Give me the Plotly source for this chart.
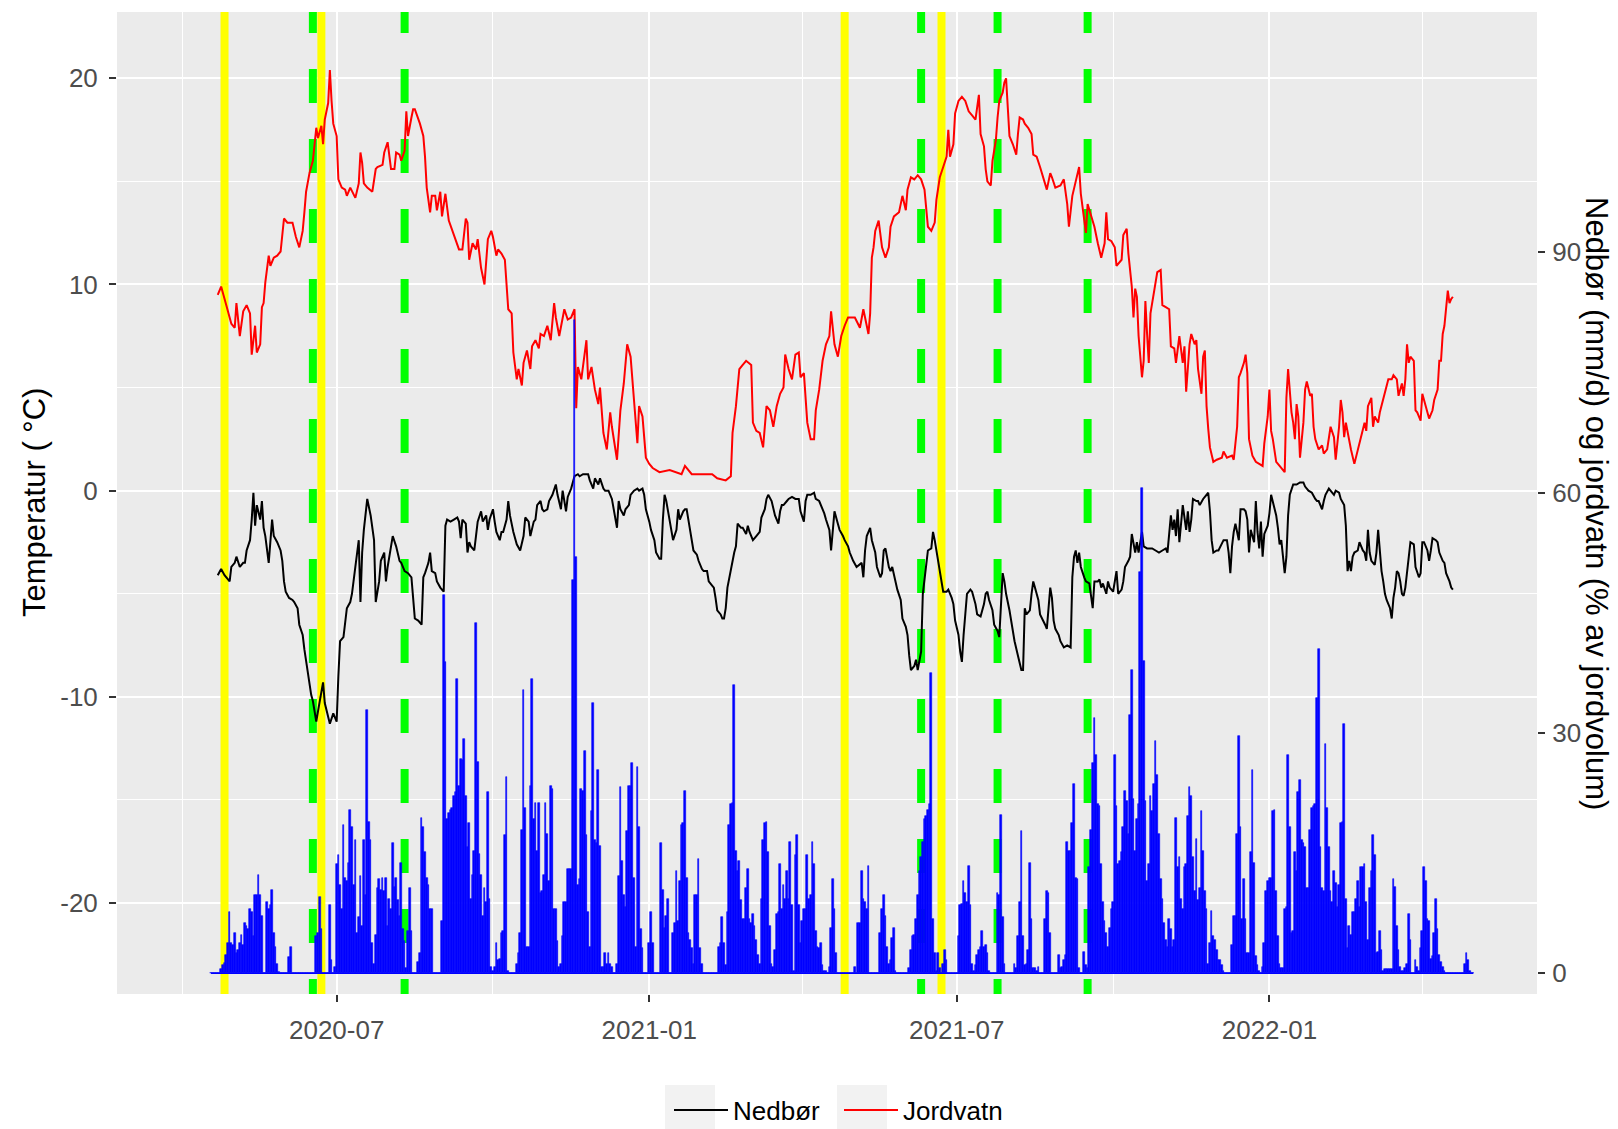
import pandas as pd
import plotly.graph_objects as go

# ---------------- data ----------------
ref_date = pd.Timestamp("2020-07-01")   # day 0 for the day offsets below

# black line ("Nedbør" in legend), left-axis units: (day offset, value)
nedbor_pts = [(-70,-4.1),(-68,-3.8),(-66,-4.1),(-63,-4.4),(-62,-3.7),(-60,-3.5),(-59,-3.2),(-57,-3.7),(-55,-3.5),(-54,-3.5),(-53,-2.9),(-51,-2.4),(-50,-1.4),(-49,-0.1),(-48,-1.7),(-47,-0.7),(-45,-1.4),(-44,-0.5),(-43,-1.8),(-42,-2.2),(-40,-3.5),(-39,-2.5),(-38,-1.4),(-37,-2.2),(-35,-2.5),(-33,-2.9),(-32,-3.4),(-31,-4.4),(-30,-4.9),(-28,-5.2),(-26,-5.3),(-25,-5.4),(-23,-5.7),(-22,-6.5),(-20,-7.0),(-19,-7.7),(-18,-8.3),(-16,-9.3),(-15,-9.9),(-14,-10.2),(-13,-10.8),(-12,-11.2),(-11,-10.7),(-9,-9.7),(-8,-9.3),(-7,-10.3),(-5,-11.0),(-4,-11.3),(-2,-10.8),(-1,-11.0),(0,-11.2),(1,-9.0),(2,-7.3),(4,-7.1),(5,-6.3),(6,-5.7),(8,-5.4),(9,-5.0),(11,-3.7),(12,-2.9),(13,-2.4),(14,-5.4),(15,-3.0),(16,-1.9),(17,-1.2),(18,-0.4),(20,-1.2),(21,-1.7),(22,-2.4),(23,-5.4),(25,-4.4),(26,-3.4),(28,-3.0),(29,-4.4),(30,-3.7),(32,-2.7),(33,-2.2),(35,-2.7),(37,-3.4),(38,-3.5),(40,-3.9),(42,-4.0),(44,-4.2),(45,-5.2),(46,-6.2),(48,-6.3),(50,-6.5),(51,-4.2),(52,-4.0),(54,-3.5),(55,-3.0),(56,-3.9),(58,-4.0),(59,-4.4),(61,-4.7),(63,-4.9),(64,-1.7),(65,-1.4),(67,-1.5),(69,-1.4),(71,-1.3),(72,-1.5),(73,-2.3),(74,-1.4),(76,-1.6),(77,-3.0),(78,-2.5),(79,-2.7),(81,-2.9),(82,-2.2),(83,-1.5),(85,-1.0),(86,-1.5),(88,-1.2),(89,-1.9),(90,-1.4),(92,-0.9),(93,-1.5),(94,-2.0),(96,-2.4),(97,-2.0),(98,-2.0),(100,-1.4),(101,-0.5),(102,-1.2),(104,-2.0),(106,-2.6),(108,-2.9),(110,-2.2),(111,-1.3),(113,-1.5),(114,-2.2),(116,-1.5),(117,-1.4),(118,-0.7),(120,-0.5),(121,-0.9),(122,-1.0),(124,-0.9),(125,-0.5),(127,-0.2),(129,0.3),(130,-0.2),(132,-0.9),(133,0.0),(135,-1.0),(136,-0.3),(138,0.1),(139,0.4),(140,0.7),(142,0.8),(143,0.7),(145,0.8),(148,0.8),(149,0.5),(151,0.1),(152,0.6),(154,0.3),(155,0.6),(157,0.1),(158,0.0),(160,0.0),(162,-0.4),(163,-0.9),(165,-1.8),(166,-0.5),(167,-0.9),(169,-1.2),(170,-0.9),(172,-0.7),(173,-0.2),(175,0.0),(177,0.1),(178,0.0),(180,0.1),(181,-0.2),(182,-0.9),(184,-1.5),(185,-1.9),(187,-2.4),(188,-3.0),(190,-3.3),(191,-3.3),(192,-1.4),(193,-0.2),(194,-0.5),(196,-1.4),(197,-2.0),(198,-2.4),(200,-1.9),(201,-0.9),(202,-1.4),(204,-1.0),(205,-0.9),(206,-0.9),(207,-1.4),(209,-2.4),(210,-2.9),(212,-3.1),(213,-3.4),(215,-3.8),(216,-3.9),(218,-3.9),(219,-4.4),(221,-4.6),(222,-4.7),(223,-5.2),(224,-5.8),(226,-6.0),(227,-6.2),(228,-6.2),(229,-5.7),(230,-4.7),(232,-3.8),(233,-3.4),(234,-3.0),(235,-2.7),(236,-1.6),(238,-1.8),(239,-1.8),(241,-2.1),(242,-1.7),(243,-2.0),(245,-2.4),(247,-2.2),(248,-2.1),(249,-2.0),(250,-1.3),(252,-0.9),(253,-0.4),(254,-0.2),(256,-0.5),(257,-0.9),(258,-1.2),(260,-1.6),(261,-1.0),(262,-0.7),(263,-0.7),(265,-0.5),(266,-0.4),(268,-0.3),(270,-0.4),(272,-0.4),(273,-1.0),(275,-1.5),(276,-0.5),(277,-0.2),(279,-0.2),(281,-0.1),(282,-0.4),(284,-0.5),(286,-0.9),(287,-1.1),(288,-1.4),(290,-1.9),(291,-2.9),(292,-1.7),(293,-1.0),(295,-1.6),(296,-1.9),(298,-2.2),(299,-2.4),(301,-2.7),(302,-3.0),(304,-3.4),(306,-3.7),(309,-3.5),(310,-4.2),(311,-2.9),(312,-2.2),(314,-1.8),(315,-2.4),(317,-3.0),(318,-3.7),(320,-4.2),(321,-4.0),(322,-2.9),(323,-2.8),(325,-3.7),(326,-3.9),(327,-3.7),(329,-4.4),(330,-4.8),(332,-5.3),(333,-6.2),(335,-6.6),(336,-7.0),(337,-8.0),(338,-8.7),(340,-8.5),(341,-8.2),(342,-8.7),(344,-7.8),(345,-5.0),(347,-3.7),(348,-2.9),(350,-2.8),(351,-2.0),(352,-2.4),(353,-2.9),(355,-3.9),(356,-4.5),(357,-4.9),(359,-4.9),(360,-4.8),(362,-5.2),(363,-5.5),(364,-6.3),(366,-7.0),(367,-7.8),(368,-8.3),(369,-7.0),(370,-6.0),(371,-5.0),(373,-4.8),(374,-4.9),(376,-5.5),(377,-6.0),(379,-6.1),(381,-5.5),(382,-5.0),(383,-4.9),(384,-5.3),(386,-5.8),(387,-6.5),(389,-6.8),(390,-7.1),(391,-5.5),(392,-4.0),(393,-4.4),(394,-5.0),(396,-5.8),(397,-6.3),(398,-7.0),(399,-7.3),(401,-8.0),(402,-8.4),(403,-8.7),(404,-8.7),(405,-5.7),(406,-6.0),(408,-5.8),(409,-5.0),(410,-4.4),(411,-4.7),(413,-5.3),(414,-6.0),(416,-6.3),(417,-6.5),(418,-6.7),(420,-4.7),(421,-5.2),(422,-6.3),(423,-6.7),(425,-7.0),(426,-7.3),(428,-7.6),(430,-7.5),(432,-7.6),(433,-4.2),(434,-3.2),(435,-2.9),(436,-3.5),(437,-3.0),(438,-3.7),(440,-4.2),(441,-4.4),(443,-4.5),(444,-5.0),(445,-5.7),(446,-4.4),(448,-4.4),(449,-4.3),(450,-4.7),(451,-4.5),(453,-5.0),(454,-4.4),(455,-4.7),(457,-4.9),(458,-4.4),(459,-3.9),(460,-5.0),(462,-4.8),(463,-4.4),(464,-3.7),(466,-3.4),(467,-3.2),(468,-2.1),(470,-3.0),(471,-2.5),(472,-3.0),(474,-2.0),(475,-2.7),(477,-2.8),(479,-2.8),(480,-2.8),(482,-2.9),(484,-3.0),(486,-2.9),(488,-2.8),(489,-3.0),(490,-2.2),(491,-1.2),(492,-1.9),(493,-1.4),(494,-2.2),(495,-0.9),(496,-2.5),(497,-1.5),(498,-0.7),(500,-1.9),(501,-1.0),(502,-2.0),(503,-1.4),(504,-0.4),(506,-0.5),(507,-0.5),(508,-0.7),(510,-0.4),(513,-0.1),(514,-1.0),(515,-2.4),(516,-3.0),(518,-2.9),(519,-2.9),(521,-2.6),(522,-2.4),(524,-2.4),(525,-3.0),(526,-4.0),(527,-2.7),(528,-2.0),(529,-1.6),(531,-2.4),(532,-0.9),(534,-0.9),(535,-1.0),(536,-1.4),(537,-3.0),(538,-1.9),(540,-2.5),(541,-0.5),(542,-2.0),(543,-2.8),(544,-1.5),(545,-3.2),(546,-2.1),(548,-1.7),(549,-1.1),(550,-0.2),(551,-0.5),(553,-1.2),(554,-1.8),(555,-2.6),(556,-2.4),(558,-4.0),(559,-3.2),(560,-1.2),(561,-0.2),(562,0.1),(563,0.3),(565,0.3),(567,0.4),(569,0.4),(570,0.2),(572,0.0),(574,-0.1),(576,-0.4),(577,-0.5),(578,-0.5),(580,-0.9),(581,-0.5),(582,-0.2),(584,0.1),(585,0.0),(587,-0.2),(588,0.0),(590,-0.1),(591,-0.4),(593,-0.7),(594,-1.7),(595,-3.9),(596,-3.4),(597,-3.9),(598,-3.2),(599,-3.0),(601,-2.9),(602,-2.5),(604,-2.9),(605,-3.0),(606,-3.4),(607,-1.9),(608,-3.0),(609,-3.4),(611,-3.6),(612,-3.0),(613,-1.9),(614,-2.9),(615,-3.9),(616,-4.4),(617,-5.0),(618,-5.3),(620,-5.7),(621,-6.2),(622,-5.2),(623,-4.7),(624,-3.9),(625,-4.0),(626,-4.4),(627,-5.0),(628,-5.1),(629,-4.7),(630,-4.0),(631,-3.2),(632,-2.5),(634,-2.6),(635,-3.7),(637,-4.2),(638,-4.0),(639,-2.5),(640,-2.5),(642,-2.9),(643,-3.4),(644,-2.9),(645,-2.3),(647,-2.4),(648,-2.5),(649,-3.0),(651,-3.4),(652,-3.5),(653,-4.0),(655,-4.4),(656,-4.7),(657,-4.8)]

# red line ("Jordvatn" in legend), left-axis units: (day offset, value)
jordvatn_pts = [(-70,9.5),(-68,9.9),(-65,9.0),(-62,8.1),(-60,7.9),(-59,9.1),(-57,7.5),(-55,8.7),(-53,9.0),(-51,8.6),(-50,6.6),(-48,8.0),(-47,6.7),(-45,7.1),(-44,8.9),(-43,9.1),(-42,10.1),(-40,11.4),(-39,10.9),(-37,11.3),(-35,11.4),(-33,11.6),(-31,13.2),(-29,13.0),(-26,13.0),(-24,12.3),(-22,11.8),(-20,12.6),(-19,13.5),(-18,14.5),(-16,15.4),(-14,16.0),(-13,16.8),(-12,17.6),(-11,17.1),(-9,17.7),(-8,16.8),(-7,18.0),(-5,18.8),(-4,20.4),(-3,18.9),(-2,17.8),(0,17.2),(1,15.1),(3,14.7),(5,14.6),(6,14.3),(8,14.7),(11,14.2),(13,14.9),(14,16.4),(15,15.9),(16,14.9),(18,14.7),(21,14.5),(23,15.6),(24,15.7),(27,15.8),(28,16.4),(30,16.9),(32,15.6),(34,15.6),(35,16.4),(37,16.3),(38,16.0),(40,16.5),(41,18.4),(42,17.2),(44,18.1),(45,18.5),(46,18.5),(49,17.8),(51,17.2),(52,16.2),(53,14.7),(55,13.5),(56,14.3),(58,14.3),(59,13.6),(61,14.5),(62,13.3),(64,14.4),(66,13.1),(68,12.6),(70,12.1),(72,11.7),(74,11.7),(76,13.2),(77,13.0),(78,11.2),(80,12.0),(82,11.7),(83,12.2),(85,10.8),(87,10.0),(89,12.2),(91,12.6),(92,12.3),(94,11.4),(95,11.7),(97,11.5),(99,11.2),(101,8.8),(103,8.6),(104,6.7),(106,5.4),(107,5.9),(109,5.1),(110,6.2),(112,6.8),(114,5.9),(115,7.0),(117,7.3),(119,6.9),(120,7.6),(122,7.5),(124,8.0),(126,7.3),(128,9.1),(129,8.4),(131,7.5),(134,8.8),(136,8.3),(138,8.4),(140,8.8),(141,4.0),(142,6.0),(144,5.4),(147,7.3),(148,5.4),(150,6.0),(152,4.9),(154,4.2),(155,5.0),(157,2.8),(159,2.0),(161,3.8),(162,3.1),(165,1.5),(167,3.9),(169,5.2),(171,7.1),(173,6.5),(175,4.2),(177,2.3),(178,4.1),(180,3.6),(182,1.6),(184,1.3),(186,1.1),(190,0.9),(196,1.0),(200,0.9),(203,0.8),(205,1.2),(209,0.8),(214,0.8),(221,0.8),(224,0.6),(229,0.5),(232,0.7),(233,2.8),(235,4.1),(237,5.9),(239,6.1),(241,6.3),(244,6.1),(245,3.3),(247,2.9),(249,2.8),(251,2.1),(253,4.1),(255,3.9),(257,3.1),(259,4.1),(261,4.7),(263,5.0),(264,6.6),(266,5.9),(268,5.4),(270,6.6),(272,6.7),(273,5.5),(275,5.7),(277,3.3),(279,2.5),(281,2.5),(282,3.9),(284,4.9),(286,6.3),(288,7.1),(290,7.5),(291,8.7),(293,7.1),(295,6.5),(297,7.5),(299,8.0),(301,8.4),(303,8.4),(305,8.4),(308,7.9),(310,8.8),(312,8.0),(313,7.6),(314,8.6),(315,11.3),(316,11.8),(317,12.6),(319,13.1),(321,11.8),(323,11.3),(325,11.8),(326,12.8),(328,13.3),(331,13.5),(333,14.3),(335,13.6),(336,14.6),(338,15.2),(340,15.1),(342,15.3),(344,15.1),(346,14.6),(348,12.8),(350,12.6),(352,13.0),(353,14.1),(355,15.2),(357,15.7),(359,16.2),(360,17.5),(361,16.2),(363,16.8),(364,18.3),(366,18.9),(368,19.1),(370,18.9),(372,18.4),(374,18.2),(376,18.0),(378,19.2),(379,17.3),(381,16.7),(382,15.6),(383,15.0),(385,14.8),(386,16.0),(388,17.0),(389,18.1),(390,18.9),(392,19.3),(393,19.8),(394,20.0),(396,17.2),(398,16.8),(400,16.3),(401,17.3),(402,18.1),(404,18.0),(405,17.8),(407,17.6),(409,17.3),(410,16.3),(412,16.2),(414,15.7),(416,15.1),(418,14.6),(420,15.4),(421,15.2),(423,14.7),(426,14.8),(428,15.1),(430,13.9),(431,12.8),(433,14.3),(435,15.0),(437,15.7),(438,14.4),(440,13.0),(441,12.5),(442,13.9),(444,13.3),(446,12.8),(448,12.0),(450,11.3),(452,12.0),(453,13.5),(454,12.2),(456,12.1),(458,11.8),(459,10.9),(462,11.2),(463,12.4),(465,12.7),(466,11.5),(468,9.9),(469,8.4),(470,9.8),(471,9.4),(472,7.5),(473,6.5),(474,5.5),(475,6.3),(476,9.2),(477,7.6),(478,6.2),(479,8.6),(480,9.1),(482,9.9),(483,10.6),(485,10.7),(486,9.0),(488,8.9),(490,8.8),(491,7.0),(493,6.9),(494,6.2),(496,7.5),(498,6.2),(499,7.0),(500,4.8),(502,7.1),(503,7.6),(505,7.1),(506,7.3),(507,5.9),(509,4.7),(510,6.5),(511,6.8),(512,4.1),(513,3.0),(514,2.1),(516,1.4),(518,1.5),(521,1.6),(522,1.9),(524,1.6),(527,1.7),(528,1.5),(530,3.1),(531,5.5),(532,5.7),(534,6.2),(535,6.6),(536,5.7),(537,2.5),(539,1.7),(541,1.4),(543,1.3),(545,1.2),(546,2.3),(548,3.6),(549,4.9),(550,2.9),(551,2.5),(553,1.4),(555,1.2),(558,0.9),(559,4.5),(560,5.9),(562,3.8),(563,3.3),(564,2.5),(565,4.2),(566,3.6),(567,1.6),(569,3.3),(570,4.9),(571,5.3),(573,4.6),(574,4.7),(575,3.1),(576,2.5),(578,2.0),(580,2.2),(581,1.8),(583,2.0),(585,3.1),(587,2.6),(588,1.5),(590,3.1),(591,4.4),(592,3.8),(593,2.6),(594,3.3),(596,2.3),(597,2.0),(599,1.3),(601,2.0),(603,2.6),(605,3.3),(606,2.9),(607,4.1),(609,4.5),(610,3.1),(611,3.6),(613,3.3),(614,3.8),(616,4.4),(617,4.7),(619,5.4),(621,5.4),(622,5.6),(624,5.4),(625,4.6),(627,5.2),(628,4.6),(629,5.4),(630,7.1),(631,6.2),(632,6.5),(634,6.3),(635,3.9),(636,3.8),(638,3.4),(639,4.7),(640,4.4),(642,3.8),(643,3.5),(645,3.9),(646,4.4),(648,4.9),(649,6.3),(650,6.3),(651,7.6),(652,8.0),(653,8.9),(654,9.7),(655,9.1),(656,9.3),(657,9.4)]

# daily precipitation bars (right-axis units, mm/d), one value per day from bar_start
bar_start = "2020-04-18"
precip_mm = [
    0, 0, 0,
    0, 0, 0, 0.5,
    1.0, 1.3, 2.3, 3.8, 7.6, 3.8, 3.5, 5.0,
    2.5, 2.9, 3.8, 4.8, 3.5, 6.3, 5.9, 5.5,
    8.0, 7.6, 4.6, 9.7, 9.7, 12.3, 9.7, 7.2,
    0, 0, 8.9, 8.0, 8.5, 10.4, 5.0, 3.3,
    1.2, 0.1, 0, 0, 0, 0, 0, 2.0,
    3.3, 0, 0, 0, 0, 0, 0, 0,
    0, 0, 0, 0, 0, 0, 0, 4.6,
    5.0, 9.5, 5.5, 0, 0, 0, 0, 8.5,
    1.6, 0, 0.8, 13.6, 14.7, 11.0, 8.0, 18.5,
    11.9, 11.5, 13.8, 20.4, 18.3, 11.0, 16.6, 5.0,
    7.0, 12.1, 5.9, 16.6, 9.7, 32.8, 18.9, 16.6,
    3.8, 1.2, 4.8, 10.6, 11.7, 10.4, 11.9, 10.2,
    11.9, 5.9, 9.3, 8.0, 16.2, 10.8, 11.9, 9.1,
    7.2, 13.8, 5.5, 4.0, 0.6, 5.3, 10.6, 5.3,
    0, 0, 0, 1.4, 2.5, 19.4, 18.3, 15.1,
    11.9, 11.0, 8.0, 8.0, 0, 0, 0, 0,
    0, 6.5, 47.2, 38.8, 19.2, 20.0, 20.4, 20.6,
    22.1, 22.6, 36.7, 23.4, 26.8, 26.6, 29.2, 22.1,
    15.7, 18.7, 9.3, 12.3, 15.3, 43.7, 26.4, 14.9,
    12.3, 7.2, 10.6, 8.9, 22.6, 9.3, 0.8, 0.3,
    0.8, 3.8, 1.6, 1.8, 5.0, 5.3, 17.2, 24.5,
    0.3, 0, 0, 0, 0, 1.2, 2.5, 5.0,
    17.9, 35.4, 20.6, 3.3, 3.3, 23.4, 36.7, 19.2,
    21.3, 15.3, 21.3, 10.0, 10.2, 12.3, 21.3, 17.4,
    11.5, 23.4, 23.0, 8.0, 8.0, 4.0, 0.8, 1.2,
    4.6, 8.9, 8.9, 13.0, 13.0, 13.0, 49.1, 81.5,
    51.9, 11.0, 11.7, 23.0, 22.8, 27.7, 17.2, 7.6,
    3.3, 20.2, 33.7, 16.6, 16.2, 25.4, 15.9, 0.8,
    0.8, 2.5, 1.2, 2.5, 1.2, 0.8, 0, 0,
    1.2, 12.1, 23.2, 14.0, 9.7, 8.3, 17.7, 23.4,
    23.4, 26.2, 11.9, 3.3, 25.8, 18.3, 5.5, 3.1,
    0, 0, 0, 3.8, 7.6, 3.8, 0, 0,
    0, 0, 16.2, 10.4, 5.7, 7.2, 9.3, 0,
    0, 5.0, 6.3, 12.7, 6.5, 11.5, 18.5, 18.7,
    22.8, 11.9, 5.0, 4.2, 3.1, 1.2, 9.7, 9.7,
    14.2, 3.1, 1.2, 0, 0, 0, 0, 0,
    0, 0, 0, 0, 3.3, 3.8, 7.0, 3.8,
    1.0, 7.6, 18.5, 21.1, 21.3, 36.0, 15.3, 12.7,
    14.0, 9.1, 6.8, 6.8, 10.6, 13.0, 6.8, 6.3,
    7.4, 5.9, 4.2, 2.3, 1.2, 9.3, 16.6, 18.7,
    18.9, 15.1, 5.9, 1.2, 0.8, 2.9, 7.4, 7.6,
    13.6, 8.0, 11.0, 9.3, 12.7, 9.3, 16.4, 8.5,
    0.3, 14.7, 17.2, 8.5, 3.8, 6.5, 8.0, 8.0,
    14.7, 9.3, 9.7, 16.4, 13.6, 5.3, 3.3, 3.1,
    3.8, 1.0, 0.3, 0.3, 0, 0.8, 5.7, 11.7,
    8.0, 2.5, 0, 0, 0, 0, 0, 0,
    0, 0, 0, 0, 0.8, 0, 6.3, 6.3,
    12.7, 9.3, 8.9, 8.0, 13.4, 0, 0, 0,
    0, 0, 0, 5.0, 8.0, 9.7, 7.2, 3.3,
    1.2, 1.6, 4.4, 5.7, 0.3, 0, 0, 0,
    0, 0, 0, 0, 0.6, 2.9, 4.6, 4.8,
    6.8, 9.7, 12.7, 14.5, 16.4, 19.2, 19.6, 20.4,
    21.1, 37.5, 6.8, 2.5, 0.3, 2.5, 0.6, 0,
    1.2, 2.9, 1.6, 0, 0, 0, 0, 0,
    0, 4.6, 8.5, 8.7, 11.5, 10.0, 8.9, 13.4,
    8.5, 1.2, 0.3, 1.0, 2.3, 2.9, 3.3, 5.3,
    3.3, 3.5, 2.5, 0.3, 0, 0, 0, 0,
    10.0, 9.7, 19.8, 7.0, 1.2, 0, 0, 0,
    0, 0, 1.2, 0.6, 4.6, 8.9, 17.7, 4.6,
    1.0, 1.2, 2.9, 13.8, 6.8, 0.6, 0.6, 0.3,
    0.8, 0, 0, 0, 6.8, 10.2, 10.0, 5.0,
    0, 0, 0, 0, 2.3, 0.6, 0.8, 1.6,
    2.3, 16.4, 15.3, 15.3, 18.7, 23.6, 11.9, 11.7,
    0.6, 0, 0, 2.7, 1.0, 0.6, 13.2, 17.9,
    26.2, 31.8, 27.3, 21.1, 20.9, 13.6, 8.9, 6.5,
    5.0, 3.3, 5.7, 8.0, 8.9, 27.3, 20.9, 13.6,
    14.0, 15.1, 18.3, 22.8, 21.5, 17.4, 32.2, 37.8,
    21.7, 15.3, 19.2, 21.1, 50.1, 60.6, 39.0, 21.5,
    11.5, 13.6, 22.1, 20.2, 23.6, 29.0, 24.7, 17.4,
    11.7, 9.3, 6.3, 4.2, 3.3, 6.8, 5.5, 3.3,
    4.2, 19.4, 13.2, 14.5, 9.3, 8.0, 13.2, 13.6,
    19.6, 23.2, 22.1, 14.5, 10.2, 16.8, 9.1,
    10.6, 20.2, 15.3, 10.2, 8.0, 1.2, 3.8, 7.8,
    4.6, 4.2, 2.9, 1.6, 1.6, 1.0, 0.3, 0,
    0, 0, 0, 3.5, 7.2, 7.2, 17.4, 29.6,
    18.3, 6.8, 11.7, 6.8, 2.5, 2.5, 15.1, 25.4,
    13.8, 2.1, 1.0, 0.3, 0, 0.8, 3.8, 10.2,
    11.5, 11.9, 11.9, 20.2, 20.4, 10.2, 4.6, 1.2,
    0.6, 0.6, 8.0, 8.3, 27.3, 18.3, 5.0, 5.3,
    15.1, 12.7, 22.6, 24.1, 16.6, 16.2, 15.7, 10.6,
    10.6, 17.9, 20.6, 20.9, 21.1, 34.3, 40.5, 15.7,
    10.6, 10.2, 28.6, 20.6, 15.7, 10.2, 8.9, 12.7,
    11.2, 8.3, 11.0, 18.7, 18.9, 31.1, 9.3, 3.1,
    5.9, 4.8, 7.6, 7.6, 9.3, 11.5, 8.3, 13.2,
    13.2, 13.6, 8.9, 4.2, 10.6, 12.7, 17.2, 14.7,
    2.5, 2.7, 5.3, 2.9, 0.3, 0.5, 0.5, 0.5,
    0.5, 0.5, 11.7, 10.8, 5.9, 2.9, 0.8, 0.3,
    0.3, 0.6, 1.2, 7.4, 4.2, 0, 0, 1.6,
    0.8, 0.3, 3.1, 5.3, 13.2, 11.5, 6.8, 6.5,
    1.8, 2.1, 5.0, 9.3, 5.5, 2.3, 1.4, 0.8,
    0.3, 0, 0, 0, 0, 0, 0, 0,
    0, 0, 0, 0, 1.2, 2.5, 1.6, 0.3,
    0, 0,
]

# marker lines
yellow_dates = ["2020-04-26", "2020-06-22", "2021-04-26", "2021-06-22"]
green_dates = ["2020-06-17", "2020-08-10", "2021-06-10", "2021-07-25", "2021-09-16"]

# axes
x_major = ["2020-07-01", "2021-01-01", "2021-07-01", "2022-01-01"]
x_major_text = ["2020-07", "2021-01", "2021-07", "2022-01"]
x_minor = ["2020-04-01", "2020-10-01", "2021-04-01", "2021-10-01", "2022-04-01"]
y_major = [-20, -10, 0, 10, 20]
y_major_text = ["-20", "-10", "0", "10", "20"]
y_minor = [-15, -5, 5, 15]
y2_major = [0, 30, 60, 90]
y2_major_text = ["0", "30", "60", "90"]

# secondary axis relation: left = right * SEC_SCALE + SEC_SHIFT
SEC_SCALE = 0.3885
SEC_SHIFT = -23.4
Y_RANGE = [-24.409, 23.215]
Y2_RANGE = [(v - SEC_SHIFT) / SEC_SCALE for v in Y_RANGE]
X_RANGE = ["2020-02-22 17:00", "2022-06-07 12:00"]
DASH_TOP = 23.846  # where the dash pattern of the green lines starts (just above the panel)

# ---------------- build ----------------
nd_day, nd_val = zip(*nedbor_pts)
jv_day, jv_val = zip(*jordvatn_pts)
nedbor_x = ref_date + pd.to_timedelta(list(nd_day), unit="D")
jordvatn_x = ref_date + pd.to_timedelta(list(jv_day), unit="D")
bar_x = pd.date_range(bar_start, periods=len(precip_mm), freq="D")

FONT = "Liberation Sans, Arial, sans-serif"
W, H = 1618, 1129
ML, MR, MT, MB = 117, 81, 12, 135
PW, PH = W - ML - MR, H - MT - MB


def px_to_paper_x(px):
    return (px - ML) / PW


def px_to_paper_y(py):
    return (H - MB - py) / PH


fig = go.Figure()

fig.add_trace(go.Scatter(x=nedbor_x, y=list(nd_val), mode="lines", name="Nedbør",
                         line=dict(color="black", width=2)))
fig.add_trace(go.Scatter(x=jordvatn_x, y=list(jv_val), mode="lines", name="Jordvatn",
                         line=dict(color="#FF0000", width=2)))
fig.add_trace(go.Bar(x=bar_x, y=precip_mm, yaxis="y2", width=86400000, showlegend=False,
                     marker=dict(color="#0000FF", line=dict(color="#0000FF", width=0.6))))
fig.add_trace(go.Scatter(x=[bar_x[0], bar_x[-1]], y=[0, 0], yaxis="y2", mode="lines",
                         showlegend=False, hoverinfo="skip",
                         line=dict(color="#0000FF", width=1.6)))

for d in yellow_dates:
    fig.add_shape(type="line", xref="x", yref="y", x0=d, x1=d, y0=Y_RANGE[1] + 2, y1=Y_RANGE[0] - 2,
                  line=dict(color="#FFFF00", width=8), layer="between")
for d in green_dates:
    fig.add_shape(type="line", xref="x", yref="y", x0=d, x1=d, y0=DASH_TOP, y1=Y_RANGE[0] - 3,
                  line=dict(color="#00FF00", width=8, dash="34px,36px"), layer="between")

# grey legend key backgrounds (ggplot-style)
for kx0, kx1 in [(665, 715), (837, 887)]:
    fig.add_shape(type="rect", xref="paper", yref="paper",
                  x0=px_to_paper_x(kx0), x1=px_to_paper_x(kx1),
                  y0=px_to_paper_y(1085), y1=px_to_paper_y(1140),
                  line=dict(width=0), fillcolor="#F2F2F2", layer="above")

tick_font = dict(family=FONT, size=26, color="#4D4D4D")
fig.update_layout(
    width=W, height=H,
    margin=dict(l=ML, r=MR, t=MT, b=MB, autoexpand=False),
    paper_bgcolor="white", plot_bgcolor="#EBEBEB",
    font=dict(family=FONT, size=26, color="black"),
    bargap=0,
    showlegend=True,
    legend=dict(orientation="h", x=px_to_paper_x(669), xanchor="left",
                y=px_to_paper_y(1110), yanchor="middle",
                font=dict(family=FONT, size=26, color="black"), bgcolor="rgba(0,0,0,0)",
                itemwidth=54, entrywidth=101, entrywidthmode="pixels", traceorder="normal"),
    xaxis=dict(type="date", range=X_RANGE, tickmode="array", tickvals=x_major, ticktext=x_major_text,
               showgrid=True, gridcolor="white", gridwidth=2, zeroline=False, showline=False,
               ticks="outside", ticklen=7, tickwidth=1.5, tickcolor="#333333",
               tickfont=tick_font, ticklabelstandoff=6,
               minor=dict(tickmode="array", tickvals=x_minor, showgrid=True, gridcolor="white",
                          gridwidth=1.2, ticks="")),
    yaxis=dict(range=Y_RANGE, tickmode="array", tickvals=y_major, ticktext=y_major_text,
               showgrid=True, gridcolor="white", gridwidth=2, zeroline=False, showline=False,
               ticks="outside", ticklen=7, tickwidth=1.5, tickcolor="#333333",
               tickfont=tick_font, ticklabelstandoff=6,
               minor=dict(tickmode="array", tickvals=y_minor, showgrid=True, gridcolor="white",
                          gridwidth=1.2, ticks="")),
    yaxis2=dict(overlaying="y", side="right", range=Y2_RANGE, tickmode="array",
                tickvals=y2_major, ticktext=y2_major_text, showgrid=False, zeroline=False,
                showline=False, ticks="outside", ticklen=7, tickwidth=1.5, tickcolor="#333333",
                tickfont=tick_font, ticklabelstandoff=2),
    annotations=[
        dict(text="Temperatur ( °C)", xref="paper", yref="paper", x=px_to_paper_x(34), y=0.5,
             textangle=-90, showarrow=False, xanchor="center", yanchor="middle",
             font=dict(family=FONT, size=31, color="black")),
        dict(text="Nedbør (mm/d) og jordvatn (% av jordvolum)", xref="paper", yref="paper",
             x=px_to_paper_x(1597), y=0.5, textangle=90, showarrow=False,
             xanchor="center", yanchor="middle",
             font=dict(family=FONT, size=31, color="black")),
    ],
)

fig.write_html("out.html")
